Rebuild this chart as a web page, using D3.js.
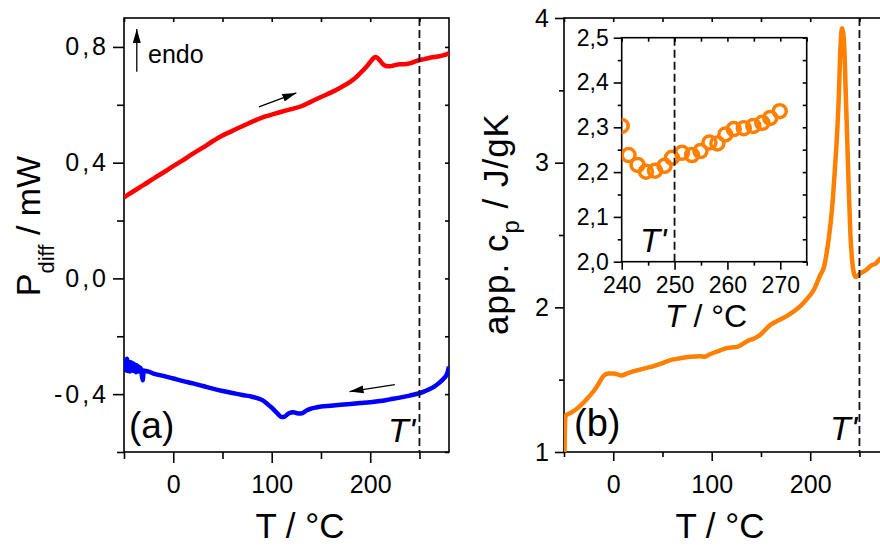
<!DOCTYPE html>
<html>
<head>
<meta charset="utf-8">
<script src="https://cdnjs.cloudflare.com/ajax/libs/d3/7.8.5/d3.min.js"></script>
<style>
  body { margin: 0; background: #fff; }
  svg text { font-family: "Liberation Sans", Arial, sans-serif; fill: #000; white-space: pre; }
</style>
</head>
<body>
<div id="viz"></div>
<script>
// (a) heating run, red
var heatT = [-50,-40,-30,-20,-10,0,10,20,30,40,50,60,70,80,90,100,110,120,130,140,150,160,170,180,185,190,195,200,203,205,207,210,213,216,220,225,230,235,240,245,250,255,260,265,270,275,280];
var heatP = [0.280,0.302,0.323,0.345,0.366,0.388,0.409,0.431,0.452,0.474,0.494,0.510,0.526,0.541,0.556,0.566,0.576,0.585,0.595,0.611,0.627,0.642,0.660,0.680,0.693,0.710,0.727,0.748,0.760,0.765,0.763,0.752,0.740,0.734,0.733,0.737,0.740,0.740,0.743,0.749,0.755,0.758,0.762,0.765,0.768,0.772,0.778];

// (a) cooling run, blue (noisy near -50)
var coolT = [-50,-49,-48,-47,-46,-45,-44,-43,-42,-41,-40,-39,-38,-37,-36,-35,-34,-33,-32,-31,-30,-28,-25,-20,-10,0,10,20,30,40,50,60,70,80,90,95,100,105,110,113,117,122,127,131,135,140,145,150,160,170,180,190,200,210,220,230,240,250,260,265,270,275,278,280];
var coolP = [-0.300,-0.282,-0.318,-0.278,-0.320,-0.288,-0.322,-0.290,-0.318,-0.293,-0.320,-0.298,-0.324,-0.300,-0.322,-0.305,-0.320,-0.310,-0.332,-0.352,-0.318,-0.320,-0.322,-0.329,-0.337,-0.346,-0.355,-0.363,-0.372,-0.381,-0.389,-0.396,-0.403,-0.409,-0.420,-0.432,-0.447,-0.464,-0.479,-0.478,-0.467,-0.463,-0.467,-0.466,-0.457,-0.450,-0.446,-0.443,-0.440,-0.437,-0.434,-0.431,-0.428,-0.424,-0.418,-0.412,-0.405,-0.397,-0.383,-0.374,-0.361,-0.345,-0.330,-0.305];

// (b) apparent cp, orange
var cpT = [-49.5,-48.5,-45,-42,-35,-27,-20,-15,-10,-5,0,5,8,15,24,32,41,50,58,68,78,88,93,97,102,108,114,120,126,131,136,143,149,155,160,168,176,183,190,197,204,210,214,218.7,221,223,225,227.3,229,230.6,232.4,234.7,236,237.4,239,240.8,242.5,244.2,246,248,250,252,255,258,262,266,271,275,280];
var cpV = [1.00,1.25,1.265,1.275,1.31,1.364,1.42,1.47,1.525,1.543,1.543,1.535,1.529,1.545,1.564,1.578,1.594,1.615,1.635,1.648,1.658,1.662,1.658,1.672,1.686,1.700,1.716,1.722,1.727,1.745,1.766,1.785,1.808,1.850,1.881,1.910,1.939,1.970,2.008,2.06,2.125,2.22,2.28,2.47,2.60,2.75,2.95,3.20,3.45,3.78,3.93,3.78,3.50,3.20,2.85,2.51,2.33,2.24,2.21,2.215,2.23,2.24,2.25,2.265,2.29,2.30,2.335,2.35,2.37];

// inset: cp points above 240 °C
var insetT = [240,241.3,243,244.6,246.3,248.1,249.5,251.4,253.3,254.9,256.6,258.1,259.6,261.2,263.1,264.9,266.6,268.1,269.9];
var insetCp = [2.303,2.238,2.216,2.201,2.203,2.214,2.232,2.243,2.238,2.247,2.266,2.264,2.284,2.296,2.298,2.303,2.310,2.321,2.336];

var tPrime = 250;

// ticks
var xMajor = [0, 100, 200], xMinor = [-50, 50, 150, 250];
var aYMajor = [-0.4, 0, 0.4, 0.8], aYMinor = [-0.6, -0.2, 0.2, 0.6];
var bYMajor = [1, 2, 3, 4], bYMinor = [1.5, 2.5, 3.5];
var iXMajor = [240, 250, 260, 270], iXMinor = [245, 255, 265, 275];
var iYMajor = [2.0, 2.1, 2.2, 2.3, 2.4, 2.5], iYMinor = [2.05, 2.15, 2.25, 2.35, 2.45];

var comma = v => v.toFixed(1).replace(".", ",");

var svg = d3.select("#viz").append("svg").attr("width", 880).attr("height", 548);
var defs = svg.append("defs");
defs.append("marker").attr("id", "head").attr("markerUnits", "userSpaceOnUse")
  .attr("viewBox", "0 -5 14 10").attr("refX", 14).attr("refY", 0)
  .attr("markerWidth", 14).attr("markerHeight", 10).attr("orient", "auto")
  .append("path").attr("d", "M0,-4L14,0L0,4Z").attr("fill", "#000");

// scales
var xA = d3.scaleLinear().domain([-50, 280]).range([124, 449]);
var yA = d3.scaleLinear().domain([-0.6, 0.9]).range([452, 18]);
var xB = d3.scaleLinear().domain([-50, 280]).range([564, 889]);
var yB = d3.scaleLinear().domain([1, 4]).range([452, 18]);
var xI = d3.scaleLinear().domain([240, 275]).range([621.7, 806.7]);
var yI = d3.scaleLinear().domain([2.0, 2.5]).range([261.7, 37.7]);

function axis(gen, tr, vals, size, pad, fmt, fs, spacing) {
  var a = svg.append("g").attr("transform", tr)
    .call(gen.tickValues(vals).tickSize(size).tickSizeOuter(0).tickPadding(pad)
      .tickFormat(fmt || (() => "")));
  a.select(".domain").remove();
  a.selectAll("line").attr("stroke", "#000").attr("stroke-width", 1.6);
  a.selectAll("text").attr("font-size", fs || 25).style("letter-spacing", spacing || null);
  return a;
}

function clip(id, x, y) {
  defs.append("clipPath").attr("id", id).append("rect")
    .attr("x", x.range()[0]).attr("y", y.range()[1])
    .attr("width", x.range()[1] - x.range()[0]).attr("height", y.range()[0] - y.range()[1]);
}

function box(x, y, fill) {
  svg.append("rect").attr("x", x.range()[0]).attr("y", y.range()[1])
    .attr("width", x.range()[1] - x.range()[0]).attr("height", y.range()[0] - y.range()[1])
    .attr("fill", fill || "none").attr("stroke", "#000").attr("stroke-width", 1.6);
}

function ticks(x, y, o) {
  var x0 = x.range()[0], x1 = x.range()[1], yb = y.range()[0], yt = y.range()[1];
  axis(d3.axisBottom(x), "translate(0," + yb + ")", o.xMajor, o.big, o.padX, o.fmtX, o.fs);
  axis(d3.axisBottom(x), "translate(0," + yb + ")", o.xMinor, o.small, 0);
  axis(d3.axisLeft(y), "translate(" + x0 + ",0)", o.yMajor, o.big, o.padY, o.fmtY, o.fs, o.spacing);
  axis(d3.axisLeft(y), "translate(" + x0 + ",0)", o.yMinor, o.small, 0);
  axis(d3.axisBottom(x), "translate(0," + yt + ")", o.xMajor.concat(o.xMinor), 4, 0);
  axis(d3.axisLeft(y), "translate(" + x1 + ",0)", o.yMajor.concat(o.yMinor), 4, 0);
}

function dashed(x, y) {
  svg.append("line").attr("x1", x(tPrime)).attr("x2", x(tPrime))
    .attr("y1", y.range()[1]).attr("y2", y.range()[0])
    .attr("stroke", "#111").attr("stroke-width", 1.8).attr("stroke-dasharray", "8,4");
}

function curve(x, y, ts, vs, color, clipId) {
  svg.append("path").datum(d3.zip(ts, vs))
    .attr("clip-path", "url(#" + clipId + ")")
    .attr("fill", "none").attr("stroke", color).attr("stroke-width", 4.5)
    .attr("stroke-linejoin", "round")
    .attr("d", d3.line().x(d => x(d[0])).y(d => y(d[1])).curve(d3.curveMonotoneX));
}

function arrow(x, y, from, to) {
  svg.append("line").attr("x1", x(from[0])).attr("y1", y(from[1]))
    .attr("x2", x(to[0])).attr("y2", y(to[1]))
    .attr("stroke", "#000").attr("stroke-width", 1.3).attr("marker-end", "url(#head)");
}

function label(txt, x, y, fs, italic, anchor) {
  return svg.append("text").attr("x", x).attr("y", y).attr("font-size", fs)
    .attr("font-style", italic ? "italic" : null).attr("text-anchor", anchor || "start").text(txt);
}

// ---------- panel (a) ----------
clip("clipA", xA, yA);
box(xA, yA);
curve(xA, yA, heatT, heatP, "#ff0000", "clipA");
curve(xA, yA, coolT, coolP, "#0000ff", "clipA");
dashed(xA, yA);
ticks(xA, yA, {xMajor: xMajor, xMinor: xMinor, yMajor: aYMajor, yMinor: aYMinor,
  big: 11, small: 7, padX: 12, padY: 4, fmtX: String, fmtY: comma, fs: 25, spacing: "3px"});
arrow(xA, yA, [-37, 0.714], [-37, 0.862]);
label("endo", 148, 63, 25);
arrow(xA, yA, [87, 0.593], [125, 0.641]);
arrow(xA, yA, [225, -0.367], [179, -0.391]);
label("(a)", 129, 438, 37);
label("T'", 388, 442, 34, true);

var ta = svg.append("text").attr("transform", "translate(40,226) rotate(-90)")
  .attr("text-anchor", "middle").attr("font-size", 34);
ta.append("tspan").text("P");
ta.append("tspan").attr("font-size", 22).attr("dy", 14).text("diff");
ta.append("tspan").attr("dy", -14).text(" / mW");
label("T / °C", 300, 538, 35, false, "middle");

// ---------- panel (b) ----------
clip("clipB", xB, yB);
box(xB, yB);
curve(xB, yB, cpT, cpV, "#ff8000", "clipB");
dashed(xB, yB);
ticks(xB, yB, {xMajor: xMajor, xMinor: xMinor, yMajor: bYMajor, yMinor: bYMinor,
  big: 9, small: 5, padX: 14, padY: 6, fmtX: String, fmtY: String, fs: 25});
label("(b)", 574, 436, 38);
label("T'", 830, 440, 34, true);

var tb = svg.append("text").attr("transform", "translate(508,224) rotate(-90)")
  .attr("text-anchor", "middle").attr("font-size", 35).style("letter-spacing", "1px");
tb.append("tspan").text("app. c");
tb.append("tspan").attr("font-size", 24).attr("dy", 11).text("p");
tb.append("tspan").attr("dy", -11).text(" / J/gK");
label("T / °C", 720, 538, 35, false, "middle");

// ---------- inset ----------
clip("clipI", xI, yI);
box(xI, yI, "#fff");
svg.append("g").attr("clip-path", "url(#clipI)")
  .selectAll("circle").data(d3.zip(insetT, insetCp)).join("circle")
  .attr("cx", d => xI(d[0])).attr("cy", d => yI(d[1])).attr("r", 6.5)
  .attr("fill", "none").attr("stroke", "#ff8000").attr("stroke-width", 3.5);
dashed(xI, yI);
ticks(xI, yI, {xMajor: iXMajor, xMinor: iXMinor, yMajor: iYMajor, yMinor: iYMinor,
  big: 8, small: 4, padX: 7, padY: 5, fmtX: String, fmtY: comma, fs: 23});
label("T'", 640, 252, 33, true);
var ti = svg.append("text").attr("x", 706).attr("y", 327).attr("font-size", 32).attr("text-anchor", "middle");
ti.append("tspan").attr("font-style", "italic").text("T");
ti.append("tspan").text(" / °C");
</script>
</body>
</html>
